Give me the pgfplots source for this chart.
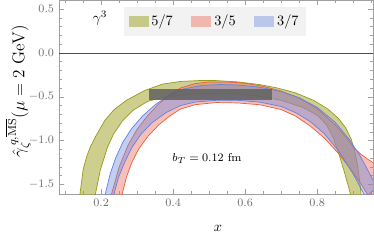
\documentclass[border=0pt]{standalone}
\usepackage{pgfplots}
\pgfplotsset{compat=1.18}
\definecolor{olivef}{RGB}{165,168,50}
\definecolor{olived}{RGB}{150,155,30}
\definecolor{redf}{RGB}{238,112,92}
\definecolor{redd}{RGB}{235,95,60}
\definecolor{bluef}{RGB}{110,140,225}
\definecolor{blued}{RGB}{100,130,225}
\definecolor{framec}{RGB}{160,160,160}
\definecolor{tickc}{RGB}{110,110,110}
\begin{document}
\begin{tikzpicture}
\begin{axis}[
  scale only axis, width=219.8pt, height=135.8pt,
  xmin=0.083, xmax=0.955, ymin=-1.608, ymax=0.604,
  axis line style={framec},
  every tick/.style={framec},
  major tick length=3.5pt, minor tick length=2pt,
  tick align=inside,
  xtick={0.2,0.4,0.6,0.8}, ytick={-1.5,-1,-0.5,0,0.5},
  minor xtick={0.1,0.15,0.25,0.3,0.35,0.45,0.5,0.55,0.65,0.7,0.75,0.85,0.9,0.95},
  minor ytick={-1.4,-1.3,-1.2,-1.1,-0.9,-0.8,-0.7,-0.6,-0.4,-0.3,-0.2,-0.1,0.1,0.2,0.3,0.4},
  xticklabel style={/pgf/number format/.cd,fixed,fixed zerofill,precision=1},
  yticklabel style={/pgf/number format/.cd,fixed,fixed zerofill,precision=1},
  ticklabel style={font=\footnotesize, text=tickc},
  xlabel={$x$},
  xlabel style={at={(axis description cs:0.506,-0.175)}, anchor=center},
  ylabel={$\hat{\gamma}_\zeta^{\,q,\overline{\mathrm{MS}}}(\mu = 2\ \mathrm{GeV})$},
  ylabel style={at={(axis description cs:-0.13,0.53)}, anchor=center, font=\large},
  legend style={at={(0.207,0.964)}, anchor=north west, draw=none, fill=black!5,
    font=\normalsize, /tikz/every even column/.append style={column sep=11pt},
    inner xsep=3pt, inner ysep=3.5pt},
  legend columns=3,
  legend image code/.code={\fill[#1,draw=none] (0pt,-3.8pt) rectangle (14pt,3.8pt);},
]
\coordinate (sw) at (rel axis cs:0,0);
\coordinate (ne) at (rel axis cs:1,1);
% 5/7 band
\addplot[fill=olivef, fill opacity=0.55, draw=olived, line width=0.5pt] coordinates {
(0.140,-1.65) (0.150,-1.33) (0.160,-1.18) (0.170,-1.07) (0.185,-0.95) (0.21,-0.77) (0.235,-0.65) (0.27,-0.54) (0.32,-0.43) (0.37,-0.355) (0.42,-0.325) (0.47,-0.315) (0.52,-0.315) (0.58,-0.33) (0.64,-0.36) (0.69,-0.40) (0.74,-0.455) (0.79,-0.54) (0.83,-0.64) (0.86,-0.75) (0.88,-0.86) (0.895,-0.99) (0.905,-1.13) (0.913,-1.30) (0.919,-1.50) (0.923,-1.65)
(0.895,-1.65) (0.888,-1.54) (0.875,-1.35) (0.861,-1.16) (0.845,-0.97) (0.826,-0.82) (0.80,-0.71) (0.76,-0.62) (0.70,-0.54) (0.64,-0.495) (0.58,-0.47) (0.50,-0.46) (0.43,-0.475) (0.37,-0.51) (0.33,-0.55) (0.29,-0.65) (0.26,-0.77) (0.235,-0.92) (0.218,-1.07) (0.198,-1.33) (0.182,-1.65)
} -- cycle;
\addlegendentry{$5/7$}
% 3/5 band
\addplot[fill=redf, fill opacity=0.45, draw=redd, line width=0.5pt] coordinates {
(0.226,-1.65) (0.25,-1.30) (0.275,-1.05) (0.30,-0.87) (0.33,-0.71) (0.36,-0.58) (0.39,-0.475) (0.42,-0.40) (0.46,-0.35) (0.50,-0.33) (0.55,-0.33) (0.60,-0.345) (0.65,-0.38) (0.70,-0.435) (0.75,-0.515) (0.80,-0.635) (0.85,-0.82) (0.88,-0.96) (0.90,-1.07) (0.92,-1.15) (0.94,-1.21) (0.97,-1.29) (0.97,-1.65)
(0.945,-1.65) (0.92,-1.48) (0.89,-1.31) (0.86,-1.15) (0.82,-0.97) (0.78,-0.83) (0.74,-0.72) (0.70,-0.645) (0.64,-0.59) (0.58,-0.57) (0.52,-0.565) (0.46,-0.59) (0.42,-0.64) (0.39,-0.72) (0.36,-0.82) (0.33,-0.95) (0.305,-1.09) (0.285,-1.25) (0.27,-1.42) (0.256,-1.65)
} -- cycle;
\addlegendentry{$3/5$}
% 3/7 band
\addplot[fill=bluef, fill opacity=0.42, draw=blued, line width=0.5pt] coordinates {
(0.209,-1.65) (0.225,-1.38) (0.24,-1.20) (0.26,-1.02) (0.285,-0.86) (0.315,-0.72) (0.35,-0.59) (0.39,-0.48) (0.43,-0.41) (0.48,-0.37) (0.53,-0.36) (0.58,-0.365) (0.64,-0.39) (0.70,-0.44) (0.75,-0.51) (0.80,-0.62) (0.85,-0.79) (0.89,-0.99) (0.92,-1.18) (0.945,-1.37) (0.965,-1.53)
(0.935,-1.65) (0.90,-1.38) (0.86,-1.12) (0.82,-0.92) (0.78,-0.78) (0.74,-0.68) (0.70,-0.61) (0.64,-0.56) (0.58,-0.54) (0.52,-0.54) (0.46,-0.56) (0.42,-0.60) (0.38,-0.68) (0.34,-0.80) (0.31,-0.93) (0.285,-1.08) (0.265,-1.25) (0.248,-1.42) (0.233,-1.65)
} -- cycle;
\addlegendentry{$3/7$}
% zero line
\addplot[black!70, line width=0.6pt, forget plot] coordinates {(0.083,0) (0.955,0)};
% grey box
\addplot[fill=black!62, fill opacity=0.85, draw=none, forget plot] coordinates {
(0.333,-0.535) (0.675,-0.535) (0.675,-0.41) (0.333,-0.41)} -- cycle;
\node at (axis cs:0.197,0.40) {$\gamma^3$};
\node at (axis cs:0.494,-1.20) {\footnotesize $b_T = 0.12$ fm};
\end{axis}
\pgfresetboundingbox
\path[use as bounding box] ([xshift=-41.3pt,yshift=-33.6pt]sw) rectangle ([xshift=0.7pt]ne);
\end{tikzpicture}
\end{document}
